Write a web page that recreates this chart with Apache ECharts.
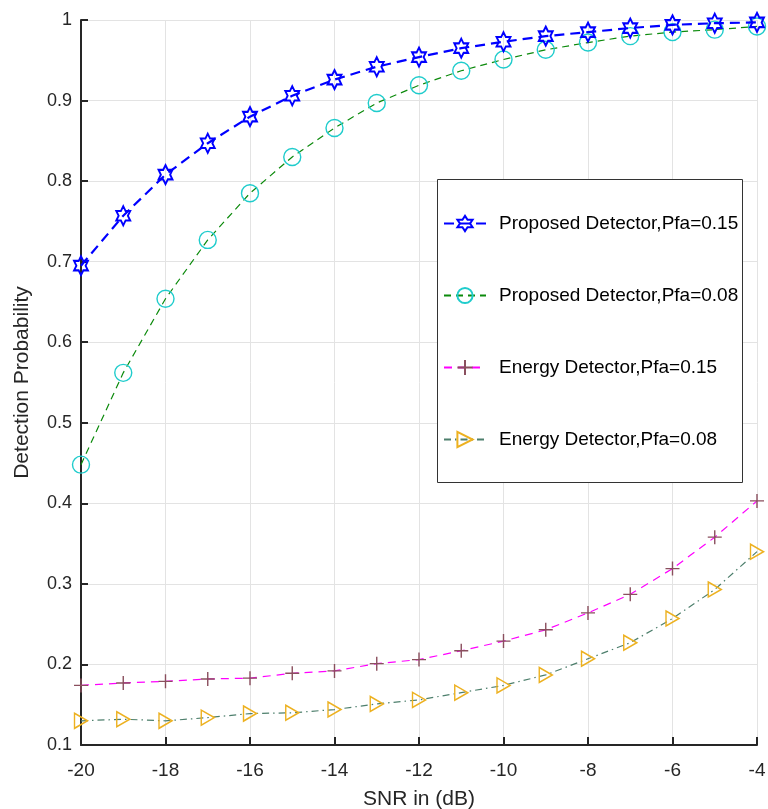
<!DOCTYPE html>
<html>
<head>
<meta charset="utf-8">
<script src="https://cdn.jsdelivr.net/npm/echarts@6/dist/echarts.min.js"></script>
<style>
  html, body { margin: 0; padding: 0; background: #fff; }
  #chart { width: 768px; height: 809px; }
</style>
</head>
<body>
<div id="chart"></div>
<script>
(function () {
  // SNR points (dB)
  const snr = [-20, -19, -18, -17, -16, -15, -14, -13, -12, -11, -10, -9, -8, -7, -6, -5, -4]

  const proposed015 = [0.695, 0.757, 0.808, 0.847, 0.880, 0.906, 0.926, 0.942, 0.954, 0.965, 0.973, 0.980, 0.985, 0.990, 0.994, 0.996, 0.997]
  const proposed008 = [0.448, 0.562, 0.654, 0.727, 0.785, 0.830, 0.866, 0.897, 0.919, 0.937, 0.951, 0.963, 0.972, 0.980, 0.985, 0.988, 0.992]
  const energy015 = [0.174, 0.177, 0.179, 0.182, 0.183, 0.189, 0.192, 0.201, 0.206, 0.217, 0.229, 0.243, 0.264, 0.287, 0.319, 0.358, 0.403]
  const energy008 = [0.130, 0.132, 0.130, 0.134, 0.139, 0.140, 0.144, 0.151, 0.156, 0.165, 0.174, 0.187, 0.207, 0.227, 0.257, 0.293, 0.340]

  const seriesNames = [
    'Proposed Detector,Pfa=0.15',
    'Proposed Detector,Pfa=0.08',
    'Energy Detector,Pfa=0.15',
    'Energy Detector,Pfa=0.08'
  ]

  const FONT = 'Arial, "Liberation Sans", Helvetica, sans-serif'
  const TEXT_COLOR = '#262626'

  const HEXAGRAM = 'path://M10 0 L12.887 5 L18.66 5 L15.774 10 L18.66 15 L12.887 15 L10 20 L7.113 15 L1.34 15 L4.226 10 L1.34 5 L7.113 5 Z'
  const PLUS = 'path://M5 0 L5 10 M0 5 L10 5'
  const TRI_RIGHT = 'path://M0 0 L10 5 L0 10 Z'

  function pairs(values) {
    return snr.map((x, i) => [x, values[i]])
  }

  function tickText(value) {
    return String(Math.round(value * 10) / 10)
  }

  const chart = echarts.init(document.getElementById('chart'), null, { renderer: 'canvas' })

  chart.setOption({
    animation: false,
    backgroundColor: '#fff',
    textStyle: { fontFamily: FONT },
    grid: {
      left: 81,
      right: 11,
      top: 20,
      bottom: 64,
      containLabel: false,
      outerBoundsMode: 'none'
    },
    xAxis: {
      type: 'value',
      min: -20,
      max: -4,
      interval: 2,
      name: 'SNR in (dB)',
      nameLocation: 'middle',
      nameGap: 44,
      nameTextStyle: { fontFamily: FONT, fontSize: 21, color: TEXT_COLOR },
      axisLine: { show: true, onZero: false, lineStyle: { color: TEXT_COLOR, width: 2 } },
      axisTick: { show: true, inside: true, length: 8, lineStyle: { color: TEXT_COLOR, width: 2 } },
      axisLabel: {
        margin: 16,
        fontFamily: FONT,
        fontSize: 19,
        color: TEXT_COLOR,
        formatter: tickText
      },
      splitLine: { show: true, lineStyle: { color: '#e3e3e3', width: 1 } }
    },
    yAxis: {
      type: 'value',
      min: 0.1,
      max: 1,
      interval: 0.1,
      name: 'Detection Probability',
      nameLocation: 'middle',
      nameGap: 48,
      nameTextStyle: { fontFamily: FONT, fontSize: 21, color: TEXT_COLOR },
      axisLine: { show: true, onZero: false, lineStyle: { color: TEXT_COLOR, width: 2 } },
      axisTick: { show: true, inside: true, length: 7, lineStyle: { color: TEXT_COLOR, width: 2 } },
      axisLabel: {
        margin: 9,
        fontFamily: FONT,
        fontSize: 18,
        color: TEXT_COLOR,
        formatter: tickText
      },
      splitLine: { show: true, lineStyle: { color: '#e3e3e3', width: 1 } }
    },
    graphic: [
      {
        type: 'rect',
        left: 437,
        top: 179,
        z: 3,
        shape: { width: 305, height: 303 },
        style: { fill: '#fff', stroke: '#333', lineWidth: 1 }
      }
    ],
    legend: {
      orient: 'vertical',
      left: 437,
      top: 179,
      z: 4,
      padding: [35, 0, 0, 6],
      itemWidth: 42,
      itemHeight: 19,
      itemGap: 53,
      backgroundColor: 'transparent',
      borderWidth: 0,
      data: seriesNames,
      textStyle: {
        fontFamily: FONT,
        fontSize: 19,
        color: '#000',
        padding: [0, 0, 0, 8]
      }
    },
    series: [
      {
        name: seriesNames[0],
        type: 'line',
        data: pairs(proposed015),
        symbol: HEXAGRAM,
        symbolSize: [16, 19],
        symbolKeepAspect: true,
        showSymbol: true,
        z: 5,
        lineStyle: { color: '#0000ff', width: 2.2, type: [10, 6] },
        itemStyle: { color: 'transparent', borderColor: '#0000ff', borderWidth: 2 }
      },
      {
        name: seriesNames[1],
        type: 'line',
        data: pairs(proposed008),
        symbol: 'circle',
        symbolSize: 17,
        showSymbol: true,
        z: 4,
        lineStyle: { color: '#0b8a0b', width: 1.2, type: [7, 5] },
        itemStyle: { color: 'transparent', borderColor: '#1fcccc', borderWidth: 1.4 }
      },
      {
        name: seriesNames[2],
        type: 'line',
        data: pairs(energy015),
        symbol: PLUS,
        symbolSize: 14,
        showSymbol: true,
        z: 4,
        lineStyle: { color: '#ff00ff', width: 1.2, type: [8, 6] },
        itemStyle: { color: 'transparent', borderColor: '#8a4f5e', borderWidth: 1.4 }
      },
      {
        name: seriesNames[3],
        type: 'line',
        data: pairs(energy008),
        symbol: TRI_RIGHT,
        symbolSize: [13, 15],
        showSymbol: true,
        z: 4,
        lineStyle: { color: '#4d7f6c', width: 1.2, type: [7, 4, 1.5, 4] },
        itemStyle: { color: 'transparent', borderColor: '#edb120', borderWidth: 1.5 }
      }
    ]
  })

  window.addEventListener('resize', () => chart.resize())
})()
</script>
</body>
</html>
